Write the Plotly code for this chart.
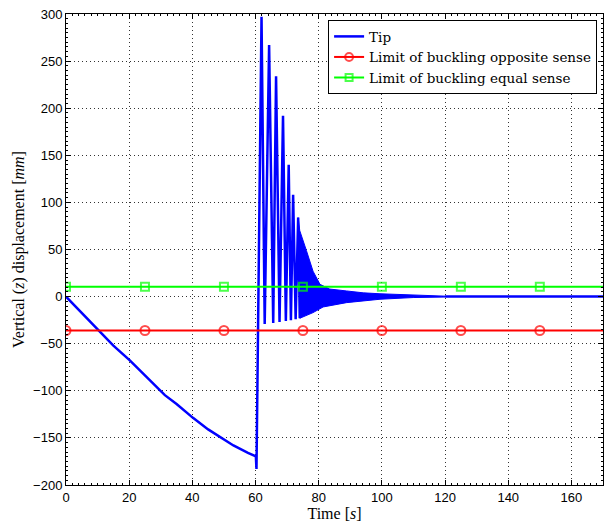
#!/usr/bin/env python3
"""
plot.py
Tip vertical displacement vs time, with the two buckling limits.
Values read off the reference figure.
"""

import plotly.graph_objects as go

# Tip: slow descent before release (s, mm)
DESCENT_T = [0, 5, 10.7, 15, 20.2, 26.6, 29.5, 31.3, 35, 40.2, 45, 49.2, 53, 57.6, 60.1, 60.3]
DESCENT_Z = [0, -17.5, -36.5, -52, -67.7, -89, -98.5, -104.6, -114, -128.7, -141, -150, -158, -166, -169.5, -183]

# Tip: large free oscillations after release (peak / trough pairs)
OSC_T = [61.9, 62.9, 64.3, 65.6, 66.5, 67.6, 68.7, 69.6, 70.5, 71.2, 71.9, 72.7, 73.5, 74.0]
OSC_Z = [297, -29, 267, -28, 234, -27, 192, -26, 140, -25, 108, -24, 84, -23]

# Tip: envelope of the dense decaying oscillation
ENV_UP_T = [73.5, 74.0, 76.1, 78.2, 80.4, 83.5, 88.8, 94.1, 99.4, 109.9, 120]
ENV_UP_Z = [84, 70, 49, 27, 13, 8, 6, 4, 3, 2, 0.5]
ENV_LO_T = [74.0, 78.2, 81.4, 88.8, 94.1, 99.4, 109.9, 120]
ENV_LO_Z = [-23, -17, -11, -6.4, -4.6, -2.8, -1, -0.5]

# Tip: settled tail
TAIL_T = [120, 145, 170]
TAIL_Z = [0, 0, 0]

# Buckling limits (mm), markers every 25 s
LIMIT_T = [0, 25, 50, 75, 100, 125, 150, 170]
LIMIT_OPPOSITE = -36
LIMIT_EQUAL = 10.5

X_TICKS = [0, 20, 40, 60, 80, 100, 120, 140, 160]
Y_TICKS = [-200, -150, -100, -50, 0, 50, 100, 150, 200, 250, 300]

SERIF = "Liberation Serif, Times New Roman, serif"
LEGEND_SERIF = "DejaVu Serif, serif"
SANS = "Liberation Sans, Arial, sans-serif"


def build_figure() -> go.Figure:
    fig = go.Figure()

    tip_t = DESCENT_T + OSC_T + [None] + TAIL_T
    tip_z = DESCENT_Z + OSC_Z + [None] + TAIL_Z
    fig.add_trace(
        go.Scatter(
            x=tip_t, y=tip_z, name="Tip", mode="lines",
            line=dict(color="#0000ff", width=2.5),
        )
    )

    # dense part drawn as a filled band between the envelopes
    fig.add_trace(
        go.Scatter(
            x=ENV_UP_T + ENV_LO_T[::-1],
            y=ENV_UP_Z + ENV_LO_Z[::-1],
            mode="lines", fill="toself", fillcolor="#0000ff",
            line=dict(color="#0000ff", width=1),
            showlegend=False, hoverinfo="skip",
        )
    )

    # no marker on the last point (line runs on to the axis edge)
    circle_sizes = [9] * (len(LIMIT_T) - 1) + [0]
    square_sizes = [8] * (len(LIMIT_T) - 1) + [0]
    fig.add_trace(
        go.Scatter(
            x=LIMIT_T, y=[LIMIT_OPPOSITE] * len(LIMIT_T),
            name="Limit of buckling opposite sense", mode="lines+markers",
            line=dict(color="#ff0000", width=2),
            marker=dict(symbol="circle-open", size=circle_sizes, color="#ff0000",
                        line=dict(width=2, color="#ff0000")),
        )
    )
    fig.add_trace(
        go.Scatter(
            x=LIMIT_T, y=[LIMIT_EQUAL] * len(LIMIT_T),
            name="Limit of buckling equal sense", mode="lines+markers",
            line=dict(color="#00ff00", width=2),
            marker=dict(symbol="square-open", size=square_sizes, color="#00ff00",
                        line=dict(width=2, color="#00ff00")),
        )
    )

    axis_common = dict(
        showgrid=True, gridcolor="#333333", griddash="1px,3px", gridwidth=1,
        showline=True, linecolor="black", linewidth=1, mirror="allticks",
        ticks="inside", ticklen=5, tickcolor="black",
        tickfont=dict(family=SANS, size=13, color="black"),
        ticklabeloverflow="allow",
        zeroline=False,
    )
    fig.update_xaxes(
        range=[0, 170], tickvals=X_TICKS,
        minor=dict(ticks="inside", dtick=2, ticklen=2, tickcolor="black", showgrid=False),
        title=dict(text="Time [<i>s</i>]", font=dict(family=SERIF, size=16, color="black"),
                   standoff=4),
        **axis_common,
    )
    fig.update_yaxes(
        range=[-200, 300], tickvals=Y_TICKS,
        minor=dict(ticks="inside", dtick=5, ticklen=2, tickcolor="black", showgrid=False),
        title=dict(text="Vertical (<i>z</i>) displacement [<i>mm</i>]",
                   font=dict(family=SERIF, size=16, color="black"), standoff=4),
        **axis_common,
    )

    fig.update_layout(
        width=607, height=525,
        margin=dict(l=66, r=4, t=14, b=40),
        paper_bgcolor="white", plot_bgcolor="white",
        legend=dict(
            x=0.989, y=0.987, xanchor="right", yanchor="top",
            bgcolor="white", bordercolor="black", borderwidth=1,
            font=dict(family=LEGEND_SERIF, size=13.5, color="black"),
            tracegroupgap=0,
        ),
    )
    return fig


def main() -> None:
    fig = build_figure()
    # drop the default body margin so the figure fills the window exactly
    fig.write_html(
        "out.html",
        config={"displayModeBar": False},
        post_script="document.body.style.margin='0';document.body.style.overflow='hidden';",
    )


if __name__ == "__main__":
    main()
